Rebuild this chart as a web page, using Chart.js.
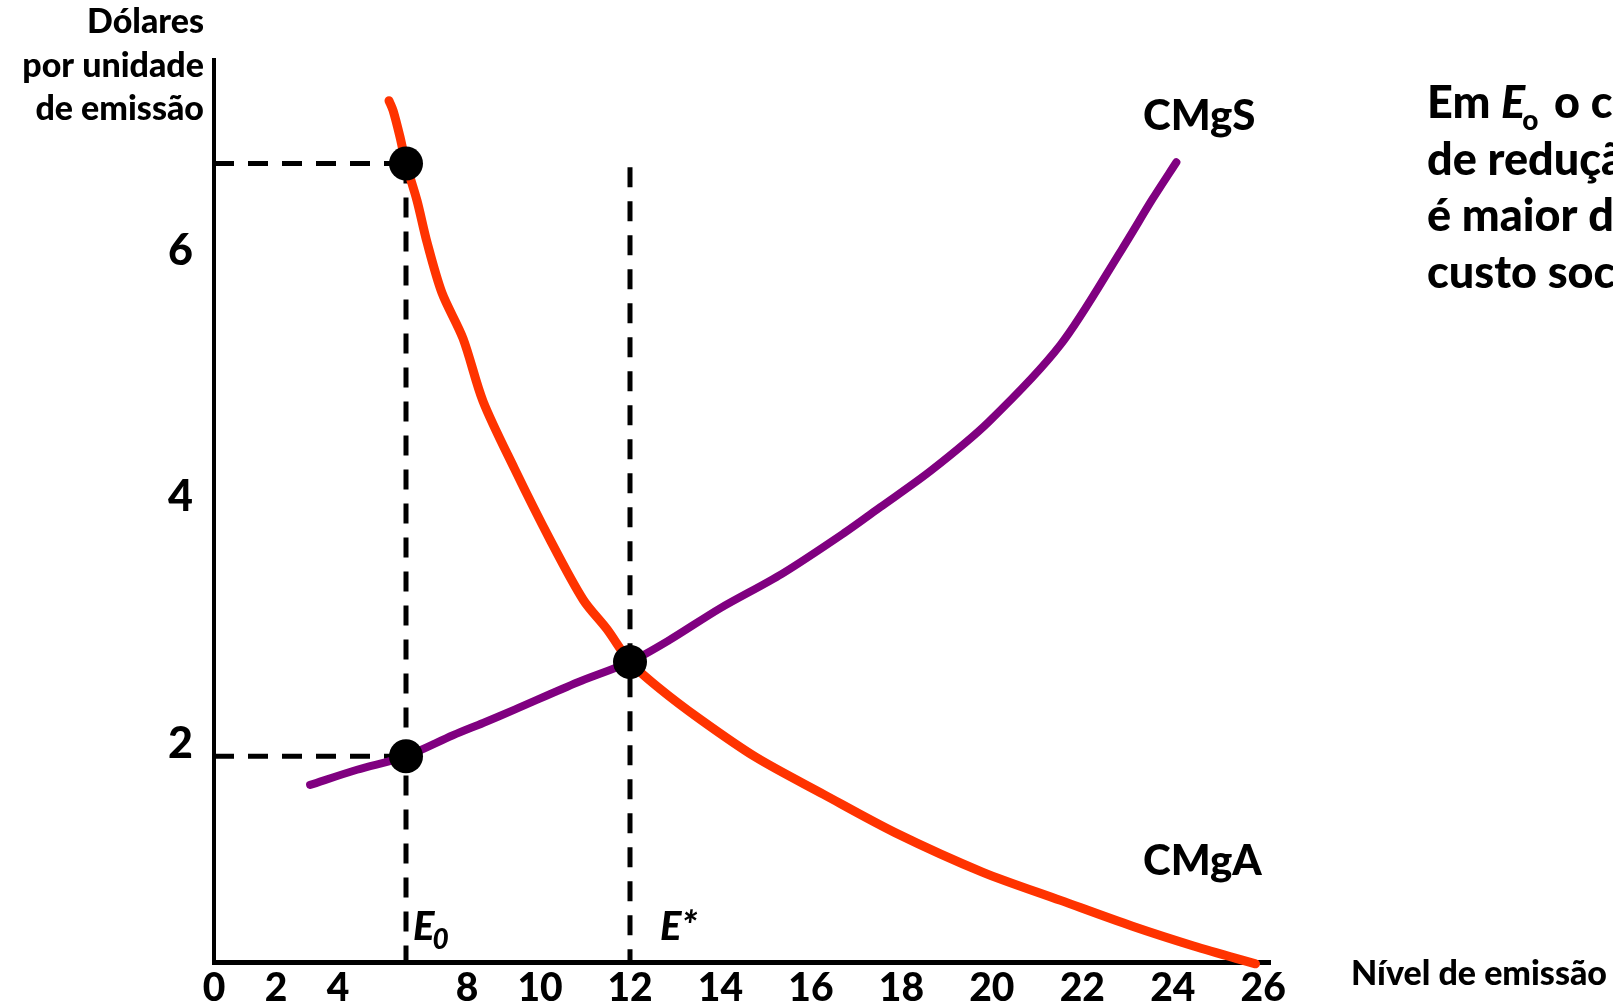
<!DOCTYPE html>
<html>
<head>
<meta charset="utf-8">
<script src="https://cdn.jsdelivr.net/npm/chart.js@4.4.1/dist/chart.umd.min.js"></script>
<style>
  html, body { margin: 0; padding: 0; background: #ffffff; overflow: hidden; }
  #c { display: block; }
</style>
</head>
<body>
<canvas id="c" width="1613" height="1001"></canvas>
<script>
// ---------- DATA ----------
const xTickValues = [0, 2, 4, 8, 10, 12, 14, 16, 18, 20, 22, 24, 26];
const yTickValues = [2, 4, 6];

// CMgA - red curve
const cmgaX = [5.50, 5.62, 5.82, 6.00, 6.36, 6.69, 7.18, 7.87, 8.44, 9.29, 10.22, 10.96, 11.49, 12.00, 12.62, 13.55, 14.79, 16.28, 17.86, 19.79, 21.52, 23.11, 24.46, 25.83];
const cmgaY = [7.22, 7.14, 6.93, 6.71, 6.41, 6.07, 5.66, 5.29, 4.78, 4.24, 3.66, 3.17, 2.93, 2.665, 2.46, 2.20, 1.89, 1.59, 1.28, 0.96, 0.73, 0.52, 0.36, 0.215];

// CMgS - purple curve
const cmgsX = [3.10, 4.56, 6.00, 7.54, 8.44, 9.32, 10.84, 12.00, 12.86, 13.99, 15.36, 16.73, 17.53, 18.66, 19.92, 21.52, 22.87, 23.55, 24.08];
const cmgsY = [1.667, 1.79, 1.90, 2.07, 2.17, 2.28, 2.50, 2.665, 2.84, 3.10, 3.38, 3.71, 3.92, 4.22, 4.61, 5.24, 6.01, 6.42, 6.72];

// Key points
const E0 = 6;
const Estar = 12;
const dotX = [6, 6, 12];
const dotY = [6.71, 1.90, 2.665];
const priceHigh = 6.71;
const priceLow = 1.90;
const dashTopEstar = 6.68;

const Y_MIN = 0.23, Y_MAX = 7.55;
const X_MIN = 0, X_MAX = 26.15;

// ---------- piecewise x scale (tick spacing of the original is uneven) ----------
const knotVals = [0, 4, 6, 8, 10, 12, 26.15];
const knotFrac = [0, 124/1056, 192/1056, 253/1056, 326/1056, 416/1056, 1];

class PiecewiseScale extends Chart.LinearScale {
  getPixelForValue(value) {
    if (value === null || value === undefined || isNaN(value)) return NaN;
    let f;
    if (value <= knotVals[0]) {
      f = knotFrac[0] + (value - knotVals[0]) * (knotFrac[1] - knotFrac[0]) / (knotVals[1] - knotVals[0]);
    } else if (value >= knotVals[knotVals.length - 1]) {
      const n = knotVals.length - 1;
      f = knotFrac[n] + (value - knotVals[n]) * (knotFrac[n] - knotFrac[n-1]) / (knotVals[n] - knotVals[n-1]);
    } else {
      let i = 0;
      while (value > knotVals[i + 1]) i++;
      const t = (value - knotVals[i]) / (knotVals[i + 1] - knotVals[i]);
      f = knotFrac[i] + t * (knotFrac[i + 1] - knotFrac[i]);
    }
    return this.getPixelForDecimal(f);
  }
  getValueForPixel(pixel) {
    const f = this.getDecimalForPixel(pixel);
    let i = 0;
    while (i < knotFrac.length - 2 && f > knotFrac[i + 1]) i++;
    const t = (f - knotFrac[i]) / (knotFrac[i + 1] - knotFrac[i]);
    return knotVals[i] + t * (knotVals[i + 1] - knotVals[i]);
  }
}
PiecewiseScale.id = 'piecewise';
PiecewiseScale.defaults = Chart.LinearScale.defaults;
Chart.register(PiecewiseScale);

const zip = (xs, ys) => xs.map((x, i) => ({ x, y: ys[i] }));

const FONT = 'Lato, "Open Sans", sans-serif';
const W = '900';
const RED = '#FF3300';
const PURPLE = '#800080';

const dashStyle = {
  borderColor: '#000000', borderWidth: 5, borderDash: [20, 14],
  pointRadius: 0, showLine: true, fill: false, order: 3, tension: 0
};

const labelsPlugin = {
  id: 'labels',
  afterDraw(chart) {
    const ctx = chart.ctx;
    const xs = chart.scales.x;
    ctx.save();
    ctx.fillStyle = '#000000';
    ctx.textBaseline = 'alphabetic';

    // y axis title
    ctx.font = W + ' 34px ' + FONT;
    ctx.textAlign = 'right';
    ctx.fillText('Dólares', 204, 33);
    ctx.fillText('por unidade', 204, 77);
    ctx.fillText('de emissão', 204, 120);

    // x axis title
    ctx.textAlign = 'left';
    ctx.font = W + ' 34px ' + FONT;
    ctx.fillText('Nível de emissão', 1351, 985);

    // curve labels
    ctx.font = W + ' 42px ' + FONT;
    ctx.fillText('CMgS', 1143, 130);
    ctx.fillText('CMgA', 1143, 875);

    // E0 and E* labels
    let px = xs.getPixelForValue(E0) + 7;
    ctx.font = 'italic ' + W + ' 40px ' + FONT;
    ctx.fillText('E', px, 940);
    let w = ctx.measureText('E').width;
    ctx.font = 'italic ' + W + ' 28px ' + FONT;
    ctx.fillText('0', px + w - 2, 949);

    px = xs.getPixelForValue(Estar) + 30;
    ctx.font = 'italic ' + W + ' 40px ' + FONT;
    ctx.fillText('E*', px, 940);

    // right-hand note (cut by the picture's edge)
    const lx = 1427;
    let x = lx;
    ctx.font = W + ' 45px ' + FONT;
    ctx.fillText('Em ', x, 118);
    x += ctx.measureText('Em ').width;
    ctx.font = 'italic ' + W + ' 45px ' + FONT;
    ctx.fillText('E', x, 118);
    x += ctx.measureText('E').width - 3;
    ctx.font = W + ' 28px ' + FONT;
    ctx.fillText('o', x, 130);
    x += ctx.measureText('o').width + 5;
    ctx.font = W + ' 45px ' + FONT;
    ctx.fillText(' o custo', x, 118);
    ctx.fillText('de redução', lx, 175);
    ctx.fillText('é maior do', lx, 231);
    ctx.fillText('custo social', lx, 288);
    ctx.restore();
  }
};

new Chart(document.getElementById('c'), {
  type: 'line',
  data: {
    datasets: [
      {
        label: 'pontos', data: zip(dotX, dotY), showLine: false,
        pointRadius: 17, pointHoverRadius: 17, pointBackgroundColor: '#000000',
        pointBorderWidth: 0, order: 0, clip: false
      },
      {
        label: 'CMgA', data: zip(cmgaX, cmgaY), borderColor: RED, borderWidth: 9,
        pointRadius: 0, tension: 0.3, borderCapStyle: 'round', borderJoinStyle: 'round',
        fill: false, order: 1, clip: false
      },
      {
        label: 'CMgS', data: zip(cmgsX, cmgsY), borderColor: PURPLE, borderWidth: 8,
        pointRadius: 0, tension: 0.3, borderCapStyle: 'round', borderJoinStyle: 'round',
        fill: false, order: 2, clip: false
      },
      Object.assign({ label: 'h-alto', data: [{ x: 0, y: priceHigh }, { x: E0, y: priceHigh }] }, dashStyle),
      Object.assign({ label: 'h-baixo', data: [{ x: 0, y: priceLow }, { x: E0, y: priceLow }] }, dashStyle),
      Object.assign({ label: 'v-E0', data: [{ x: E0, y: priceHigh }, { x: E0, y: Y_MIN }] }, dashStyle),
      Object.assign({ label: 'v-Estar', data: [{ x: Estar, y: dashTopEstar }, { x: Estar, y: Y_MIN }] }, dashStyle)
    ]
  },
  options: {
    responsive: false,
    animation: false,
    events: [],
    layout: { padding: { left: 0, top: 60, right: 343, bottom: 0 } },
    plugins: { legend: { display: false }, tooltip: { enabled: false }, title: { display: false } },
    scales: {
      x: {
        type: 'piecewise', min: X_MIN, max: X_MAX,
        afterBuildTicks: (s) => { s.ticks = xTickValues.map(v => ({ value: v })); },
        afterFit: (s) => { s.height = 39; s.paddingLeft = 0; s.paddingRight = 0; },
        grid: { display: false, drawTicks: false, tickLength: 0 },
        border: { display: true, color: '#000000', width: 5 },
        ticks: {
          color: '#000000', padding: 3, maxRotation: 0, autoSkip: false,
          font: { family: FONT, size: 39, weight: W },
          callback: (v) => String(v)
        }
      },
      y: {
        type: 'linear', min: Y_MIN, max: Y_MAX,
        afterBuildTicks: (s) => { s.ticks = yTickValues.map(v => ({ value: v })); },
        afterFit: (s) => { s.width = 214; s.paddingTop = 0; s.paddingBottom = 0; },
        grid: { display: false, drawTicks: false, tickLength: 0 },
        border: { display: true, color: '#000000', width: 4 },
        ticks: {
          color: '#000000', padding: 21,
          font: { family: FONT, size: 43, weight: W },
          callback: (v) => String(v)
        }
      }
    }
  },
  plugins: [labelsPlugin]
});
</script>
</body>
</html>
